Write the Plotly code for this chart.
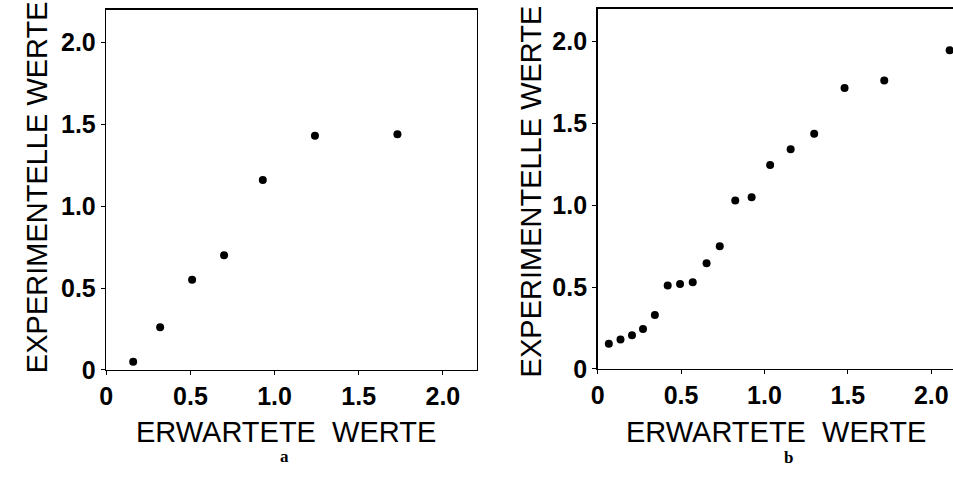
import plotly.graph_objects as go

# Panel a data
a_expected = [0.16, 0.32, 0.51, 0.70, 0.93, 1.24, 1.73]
a_experimental = [0.05, 0.26, 0.55, 0.70, 1.16, 1.43, 1.44]

# Panel b data
b_expected = [0.067, 0.137, 0.206, 0.272, 0.343, 0.42, 0.494, 0.57, 0.653, 0.732,
              0.825, 0.923, 1.034, 1.157, 1.298, 1.48, 1.718, 2.11]
b_experimental = [0.153, 0.179, 0.206, 0.244, 0.329, 0.51, 0.518, 0.53, 0.645, 0.75,
                  1.028, 1.048, 1.246, 1.341, 1.436, 1.716, 1.762, 1.946]

tick_vals = [0, 0.5, 1.0, 1.5, 2.0]
tick_text = ["0", "0.5", "1.0", "1.5", "2.0"]
x_title = "ERWARTETE  WERTE"
y_title = "EXPERIMENTELLE WERTE"
panel_labels = ["a", "b"]

fig = go.Figure()
fig.add_trace(go.Scatter(x=a_expected, y=a_experimental, mode="markers",
                         marker=dict(color="black", size=8), xaxis="x", yaxis="y",
                         showlegend=False))
fig.add_trace(go.Scatter(x=b_expected, y=b_experimental, mode="markers",
                         marker=dict(color="black", size=8), xaxis="x2", yaxis="y2",
                         showlegend=False, cliponaxis=False))

tickfont = dict(family="Liberation Sans", size=25, color="black", weight="bold")
common = dict(tickvals=tick_vals, ticktext=tick_text, showgrid=False, zeroline=False,
              showline=True, linecolor="black", linewidth=1.5, ticks="outside",
              ticklen=4, tickcolor="black", tickfont=tickfont)

W, H = 953, 480
fig.update_layout(
    width=W, height=H,
    margin=dict(l=0, r=0, t=0, b=0),
    paper_bgcolor="white", plot_bgcolor="white",
    xaxis=dict(domain=[100/W, 473/W], range=[0, 2.2], anchor="y", mirror=True, **common),
    yaxis=dict(domain=[(H-381)/H, (H-10)/H], range=[0, 2.2], anchor="x", mirror=True, **common),
    xaxis2=dict(domain=[595/W, 1.0], range=[0, 2.13], anchor="y2", mirror=True, **common),
    yaxis2=dict(domain=[(H-380)/H, (H-9)/H], range=[0, 2.2], anchor="x2", mirror=False, **common),
)

title_font = dict(family="Liberation Sans", size=29, color="black")
label_font = dict(family="Liberation Serif", size=17, color="black", weight="bold")

annotations = [
    dict(text=x_title, x=281/W, y=1-445/H, xref="paper", yref="paper",
         showarrow=False, font=title_font, xanchor="center", yanchor="middle"),
    dict(text=x_title, x=775/W, y=1-445/H, xref="paper", yref="paper",
         showarrow=False, font=title_font, xanchor="center", yanchor="middle"),
    dict(text=y_title, x=31/W, y=1-193/H, xref="paper", yref="paper",
         showarrow=False, font=title_font, textangle=-90, xanchor="center", yanchor="middle"),
    dict(text=y_title, x=528/W, y=1-197/H, xref="paper", yref="paper",
         showarrow=False, font=title_font, textangle=-90, xanchor="center", yanchor="middle"),
    dict(text=panel_labels[0], x=280/W, y=1-470/H, xref="paper", yref="paper",
         showarrow=False, font=label_font, xanchor="center", yanchor="middle"),
    dict(text=panel_labels[1], x=787/W, y=1-471/H, xref="paper", yref="paper",
         showarrow=False, font=label_font, xanchor="center", yanchor="middle"),
]
fig.update_layout(annotations=annotations)

fig.write_html("out.html", config={"displayModeBar": False, "staticPlot": True})

# remove the default body margin so the figure fills the window exactly
with open("out.html", "r", encoding="utf-8") as f:
    html = f.read()
style = "<style>html,body{margin:0;padding:0;overflow:hidden;}</style>"
html = html.replace("<head>", "<head>" + style, 1)
with open("out.html", "w", encoding="utf-8") as f:
    f.write(html)
